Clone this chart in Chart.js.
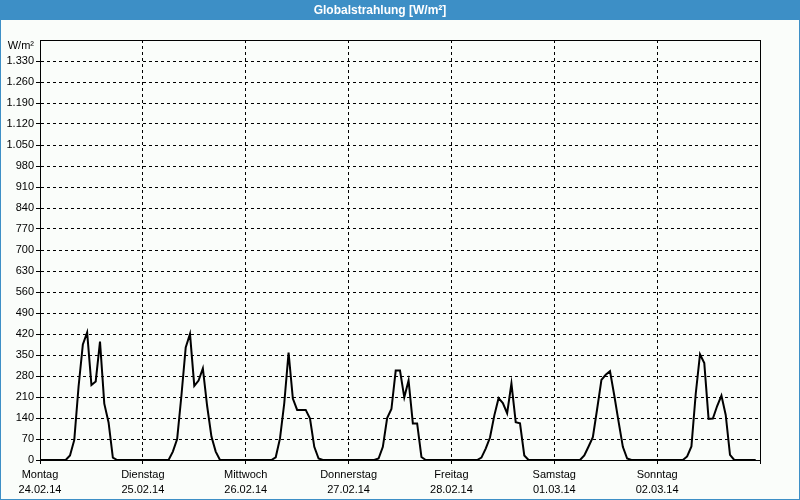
<!DOCTYPE html>
<html>
<head>
<meta charset="utf-8">
<script src="https://cdn.jsdelivr.net/npm/chart.js@4"></script>
<style>
  html, body { margin: 0; padding: 0; background: #fafdfa; }
  #wrap { width: 800px; height: 500px; position: relative; }
</style>
</head>
<body>
<div id="wrap"><canvas id="c" width="800" height="500"></canvas></div>
<script>
// ---- data ----
const titleText = 'Globalstrahlung [W/m²]';
const unitLabel = 'W/m²';
const dayNames = ['Montag', 'Dienstag', 'Mittwoch', 'Donnerstag', 'Freitag', 'Samstag', 'Sonntag'];
const dayDates = ['24.02.14', '25.02.14', '26.02.14', '27.02.14', '28.02.14', '01.03.14', '02.03.14'];
// hourly values (W/m²), 24 per day
const day1 = [0,0,0,0,0,0,0,15,67,245,385,425,250,262,395,188,125,8,0,0,0,0,0,0];
const day2 = [0,0,0,0,0,0,0,28,70,215,375,420,247,265,305,180,78,28,0,0,0,0,0,0];
const day3 = [0,0,0,0,0,0,0,9,72,190,358,205,167,167,167,138,44,5,0,0,0,0,0,0];
const day4 = [0,0,0,0,0,0,0,5,44,140,170,298,298,209,265,122,122,10,0,0,0,0,0,0];
const day5 = [0,0,0,0,0,0,0,8,38,75,148,206,190,156,255,126,122,15,0,0,0,0,0,0];
const day6 = [0,0,0,0,0,0,0,15,45,76,170,267,284,296,215,128,44,5,0,0,0,0,0,0];
const day7 = [0,0,0,0,0,0,0,12,45,220,352,323,137,138,180,215,150,17,0,0,0,0,0,0];
const yMax = 1400;
const yStep = 70;
const hoursPerDay = 24;

const values = [].concat(day1, day2, day3, day4, day5, day6, day7);
const points = values.map((v, i) => ({ x: i, y: v }));
const totalHours = dayNames.length * hoursPerDay;

function fmtDE(v) {
  return String(v).replace(/\B(?=(\d{3})+(?!\d))/g, '.');
}

const FONT = "'Liberation Sans', Arial, sans-serif";

const frame = {
  id: 'frame',
  beforeDraw(chart) {
    const ctx = chart.ctx;
    ctx.save();
    ctx.fillStyle = '#fafdfa';
    ctx.fillRect(0, 0, chart.width, chart.height);
    ctx.fillStyle = '#3d8fc6';
    ctx.fillRect(0, 0, chart.width, 20);
    ctx.strokeStyle = '#3d8fc6';
    ctx.lineWidth = 1;
    ctx.strokeRect(0.5, 0.5, chart.width - 1, chart.height - 1);
    ctx.restore();
  },
  afterDraw(chart) {
    const a = chart.chartArea;
    const ctx = chart.ctx;
    ctx.save();
    ctx.strokeStyle = '#000';
    ctx.lineWidth = 1;
    ctx.setLineDash([]);
    ctx.strokeRect(Math.round(a.left) + 0.5, Math.round(a.top) + 0.5,
                   Math.round(a.right - a.left), Math.round(a.bottom - a.top));
    ctx.restore();
  }
};

new Chart(document.getElementById('c'), {
  type: 'line',
  data: {
    datasets: [{
      data: points,
      borderColor: '#000',
      borderWidth: 2,
      pointRadius: 0,
      tension: 0,
      fill: false
    }]
  },
  options: {
    responsive: false,
    animation: false,
    layout: { padding: { left: 0, right: 40, top: 0, bottom: 0 } },
    plugins: {
      legend: { display: false },
      tooltip: { enabled: false },
      title: {
        display: true,
        text: titleText,
        color: '#ffffff',
        font: { family: FONT, size: 12, weight: 'bold', lineHeight: 1.2 },
        padding: { top: 3, bottom: 22.6 }
      }
    },
    scales: {
      x: {
        type: 'linear',
        min: 0,
        max: totalHours,
        afterBuildTicks(scale) {
          const t = [];
          for (let d = 0; d <= dayNames.length; d++) t.push({ value: d * hoursPerDay });
          scale.ticks = t;
        },
        afterFit(scale) { scale.height = 40; },
        ticks: {
          autoSkip: false,
          maxRotation: 0,
          padding: 4,
          color: '#000',
          font: { family: FONT, size: 11, lineHeight: 1.35 },
          callback(v) {
            const i = Math.round(v / hoursPerDay);
            return i < dayNames.length ? [dayNames[i], dayDates[i]] : '';
          }
        },
        grid: {
          color: '#000',
          lineWidth: 1,
          tickLength: 4,
          tickColor: '#000',
          drawOnChartArea: true
        },
        border: { display: true, color: '#000', dash: [3, 3] }
      },
      y: {
        min: 0,
        max: yMax,
        afterBuildTicks(scale) {
          const t = [];
          for (let v = 0; v <= yMax; v += yStep) t.push({ value: v });
          scale.ticks = t;
        },
        afterFit(scale) { scale.width = 40; },
        ticks: {
          autoSkip: false,
          padding: 2,
          color: '#000',
          font: { family: FONT, size: 11, lineHeight: 1.1 },
          callback(v) { return v === yMax ? ['', unitLabel] : fmtDE(v); }
        },
        grid: {
          color: '#000',
          lineWidth: 1,
          tickLength: 4,
          tickColor: (c) => (c.tick && c.tick.value === yMax) ? 'rgba(0,0,0,0)' : '#000'
        },
        border: { display: true, color: '#000', dash: [3, 3] }
      }
    }
  },
  plugins: [frame]
});
</script>
</body>
</html>
